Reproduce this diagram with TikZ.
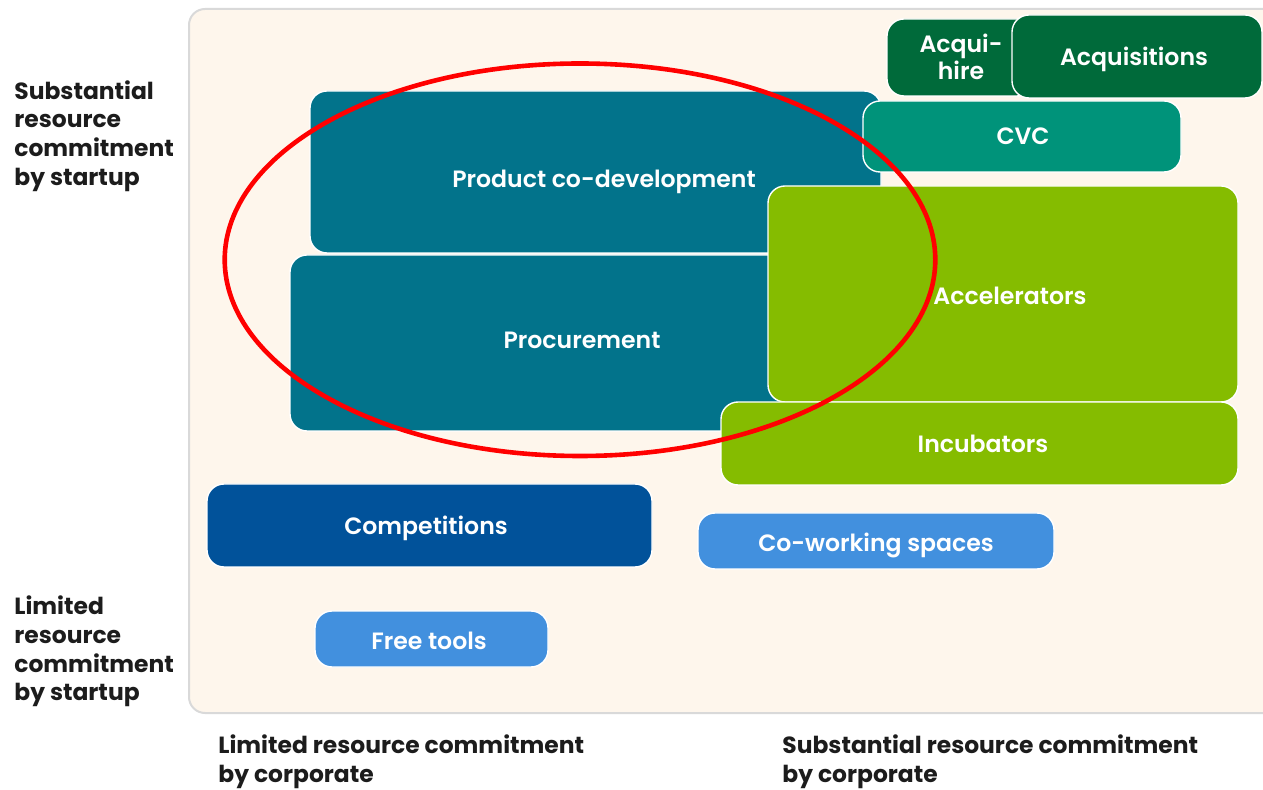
\documentclass[tikz,border=0pt]{standalone}
\usepackage{fontspec}
\setmainfont{Poppins}
\newfontfamily\tilefont{Poppins SemiBold}

\definecolor{panelbg}{HTML}{FEF6EC}
\definecolor{axisink}{HTML}{1C1C1C}
\definecolor{coteal}{HTML}{02738B}
\definecolor{acqgreen}{HTML}{006A3A}
\definecolor{cvcgreen}{HTML}{00937A}
\definecolor{limegreen}{HTML}{85BC00}
\definecolor{compblue}{HTML}{01529A}
\definecolor{skyblue}{HTML}{4290DE}

\begin{document}
\begin{tikzpicture}[x=0.5pt, y=-0.5pt,
  tile/.style={draw=white, line width=0.7pt, rounded corners=8.5pt},
  tiletext/.style={text=white, font=\fontsize{11.8}{13.65}\selectfont\tilefont, align=center, inner sep=0pt},
  axistext/.style={text=axisink, font=\fontsize{11.7}{14.35}\selectfont\bfseries, align=left, anchor=west, inner sep=0pt}]

  \useasboundingbox (0,0) rectangle (1263,790);
  \clip (0,0) rectangle (1263,790);

  \draw[fill=panelbg, draw=black!15, line width=1pt, rounded corners=8pt] (189,9) rectangle (1300,713);

  \draw[tile, fill=coteal] (290,255) rectangle (874,431);
  \draw[tile, fill=coteal] (310,91) rectangle (881,253);
  \draw[tile, fill=acqgreen] (887,19) rectangle (1034,96);
  \draw[tile, fill=acqgreen] (1012,15) rectangle (1262,98);
  \draw[tile, fill=cvcgreen] (863,101) rectangle (1181,172);
  \draw[tile, fill=limegreen] (768,186) rectangle (1238,402);
  \draw[tile, fill=limegreen] (721,402) rectangle (1238,485);
  \draw[tile, fill=compblue] (207,484) rectangle (652,567);
  \draw[tile, fill=skyblue] (698,513) rectangle (1054,569);
  \draw[tile, fill=skyblue] (315,611) rectangle (548,667);

  \node[tiletext, anchor=base] (codev) at (604,188) {Product co-development};
  \node[tiletext, anchor=base] (procure) at (582,349) {Procurement};
  \node[tiletext] (acquihire) at (961,57) {Acqui-\\hire};
  \node[tiletext, anchor=base] (acquis) at (1134,66) {Acquisitions};
  \node[tiletext, anchor=base] (cvc) at (1023,145) {CVC};
  \node[tiletext, anchor=base] (accel) at (1010,305) {Accelerators};
  \node[tiletext, anchor=base] (incub) at (983,453) {Incubators};
  \node[tiletext, anchor=base] (compet) at (426,535) {Competitions};
  \node[tiletext, anchor=base] (cowork) at (876,552) {Co-working spaces};
  \node[tiletext, anchor=base] (freetools) at (429,649) {Free tools};

  \draw[red, line width=2.3pt] (580,259.75) ellipse [x radius=355.3, y radius=196.25];

  \node[axistext] (startuphigh) at (14,136) {Substantial\\resource\\commitment\\by startup};
  \node[axistext] (startuplow) at (14,651.5) {Limited\\resource\\commitment\\by startup};
  \node[axistext] (corplow) at (218,761.5) {Limited resource commitment\\by corporate};
  \node[axistext] (corphigh) at (782,761.5) {Substantial resource commitment\\by corporate};

\end{tikzpicture}
\end{document}
